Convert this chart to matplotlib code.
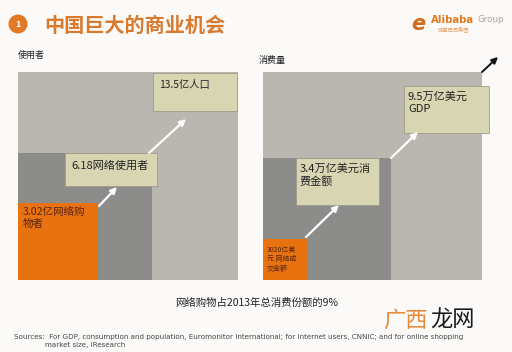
import matplotlib
matplotlib.use("Agg")
import matplotlib.pyplot as plt
from matplotlib.patches import Rectangle, Circle

plt.rcParams['font.family'] = ['Noto Sans CJK SC', 'DejaVu Sans']

# data
title = '中国巨大的商业机会'
left_title = '使用者'
right_title = '消费量'
left_values = [3.02, 6.18, 13.5]          # 亿人
left_labels = ['3.02亿网络购\n物者', '6.18网络使用者', '13.5亿人口']
right_values = [0.302, 3.4, 9.5]          # 万亿美元
right_labels = ['3020亿美\n元 网络成\n交金额', '3.4万亿美元消\n费金额', '9.5万亿美元\nGDP']
note = '网络购物占2013年总消费份额的9%'
sources = ['Sources:  For GDP, consumption and population, Euromonitor International; for Internet users, CNNIC; and for online shopping',
           'market size, iResearch']

# layout (pixel coords, y down): nested rects (x0, y0, x1, y1), small->big
left_rects = [(18, 203, 98, 280), (18, 153, 152, 280), (18, 72, 238, 280)]
right_rects = [(263, 239, 308, 280), (263, 158, 391, 280), (263, 72, 482, 280)]
left_boxes = [None, (65, 153, 157, 186), (153, 73, 237, 111)]
right_boxes = [None, (296, 158, 379, 205), (404, 86, 489, 133)]
left_text = [(23, 207, 7.6), (71, 160, 8), (159, 80, 7.4)]
right_text = [(267, 246, 5), (300, 163, 8), (408, 91, 8)]
left_arrows = [((99, 206), (117, 187)), ((149, 153), (186, 119))]
right_arrows = [((306, 237), (339, 205)), ((391, 158), (418, 132))]

rect_colors = ['#e8720f', '#8c8c8a', '#bab6b0']
text_colors = ['#5a2410', '#222222', '#222222']

fig = plt.figure(figsize=(5.12, 3.52), dpi=100)
fig.patch.set_facecolor('#fbfaf8')
ax = fig.add_axes([0, 0, 1, 1])
ax.set_xlim(0, 512)
ax.set_ylim(352, 0)
ax.axis('off')


def panel(rects, boxes, texts, labels, arrows):
    for (x0, y0, x1, y1), c in reversed(list(zip(rects, rect_colors))):
        ax.add_patch(Rectangle((x0, y0), x1 - x0, y1 - y0, fc=c, ec='none'))
    for (a, b) in arrows:
        ax.annotate('', xy=b, xytext=a,
                    arrowprops=dict(arrowstyle='-|>', color='white', lw=1.6,
                                    mutation_scale=9, shrinkA=0, shrinkB=0))
    for box in boxes:
        if box is None:
            continue
        x0, y0, x1, y1 = box
        ax.add_patch(Rectangle((x0, y0), x1 - x0, y1 - y0, fc='#d8d5b3',
                               ec='#9e9c88', lw=0.6))
    for (tx, ty, fs), lab, tc in zip(texts, labels, text_colors):
        ax.text(tx, ty, lab, fontsize=fs, color=tc, va='top', ha='left',
                linespacing=1.25)


panel(left_rects, left_boxes, left_text, left_labels, left_arrows)
panel(right_rects, right_boxes, right_text, right_labels, right_arrows)

# black arrow top right
ax.annotate('', xy=(498, 57), xytext=(482, 72),
            arrowprops=dict(arrowstyle='-|>', color='#111111', lw=1.4,
                            mutation_scale=9, shrinkA=0, shrinkB=0))

# header
ax.add_patch(Circle((18, 24), 9.5, fc='#e07a26', ec='none'))
ax.text(18, 24.5, '1', color='white', fontsize=6.5, ha='center', va='center',
        fontweight='bold')
ax.text(44, 25, title, color='#d97a2e', fontsize=14.5, fontweight='bold',
        ha='left', va='center')
ax.text(18, 55, left_title, fontsize=6.5, color='#222222', va='center')
ax.text(259, 60, right_title, fontsize=6.5, color='#222222', va='center')

# logo
ax.text(431, 20, 'Alibaba', color='#e07b22', fontsize=7.3, fontweight='bold',
        ha='left', va='center', family='DejaVu Sans')
ax.text(478, 20, 'Group', color='#b0a8a0', fontsize=6.3, ha='left', va='center',
        family='DejaVu Sans')
ax.text(438, 29, '阿里巴巴集团', color='#e8a060', fontsize=3.8, ha='left',
        va='center')
ax.text(418, 24, 'e', color='#d46a1a', fontsize=15, fontweight='bold',
        ha='center', va='center', style='italic', family='DejaVu Sans')

# footer
ax.text(257, 303, note, fontsize=7.5, color='#222222', ha='center', va='center')
ax.text(14, 337, sources[0], fontsize=5.1, color='#444444', ha='left',
        va='center', family='DejaVu Sans')
ax.text(45, 345, sources[1], fontsize=5.1, color='#444444', ha='left',
        va='center', family='DejaVu Sans')

# watermark
ax.text(383, 320, '广西', fontsize=16, color='#e88a3a', ha='left', va='center')
ax.text(430, 320, '龙网', fontsize=16, color='#1a1a1a', ha='left', va='center')

fig.savefig('out.png', dpi=100, facecolor=fig.get_facecolor())
